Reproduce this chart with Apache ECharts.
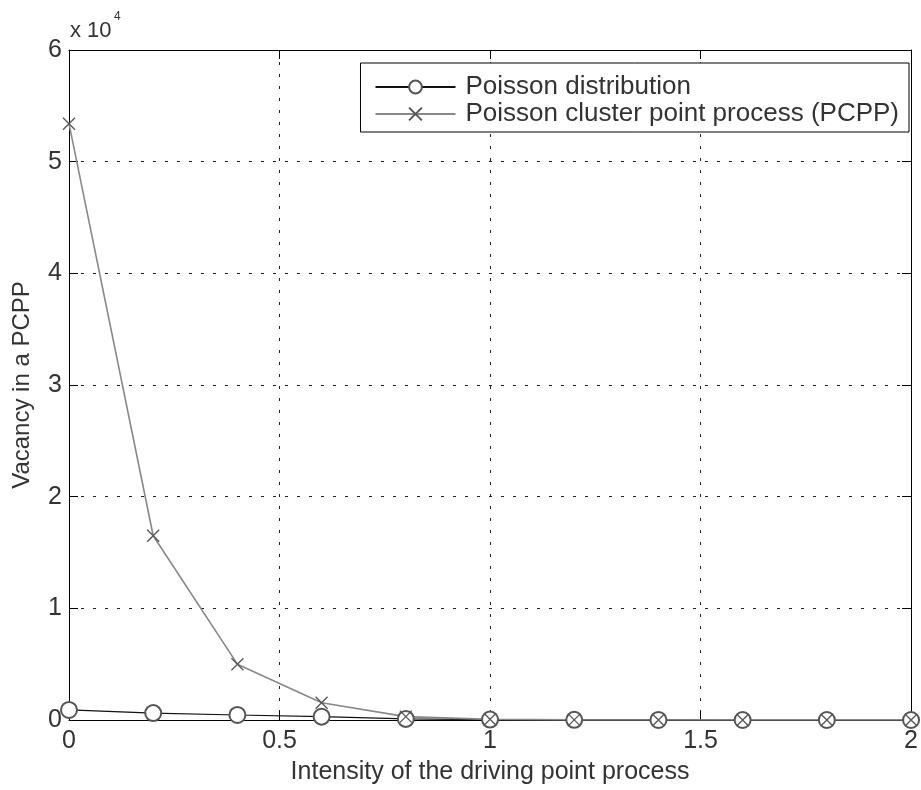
<!DOCTYPE html>
<html><head><meta charset="utf-8">
<script src="https://cdn.jsdelivr.net/npm/echarts@6/dist/echarts.min.js"></script>
<style>html,body{margin:0;padding:0;background:#fff}#c{width:921px;height:790px}</style>
</head><body><div id="c"></div>
<script>
const xValues = [0, 0.2, 0.4, 0.6, 0.8, 1.0, 1.2, 1.4, 1.6, 1.8, 2.0];
const poisson = [900, 620, 450, 300, 100, 40, 15, 5, 0, 0, 0];
const pcpp = [53400, 16500, 5000, 1550, 300, 60, 10, 0, 0, 0, 0];
const seriesNames = ['Poisson distribution', 'Poisson cluster point process (PCPP)'];
const xTitle = 'Intensity of the driving point process';
const yTitle = 'Vacancy in a PCPP';

const font = 'Liberation Sans, Arial, sans-serif';
const txt = '#333';
const chart = echarts.init(document.getElementById('c'));
const crossPath = 'path://M0,0L10,10M10,0L0,10';
const gridLine = {show: true, lineStyle: {color: '#222', type: [3, 9], width: 1}};
chart.setOption({
  animation: false,
  grid: {left: 69, right: 4, top: 50, bottom: 66},
  legend: {
    orient: 'vertical', right: 12, top: 63,
    backgroundColor: '#fff', borderColor: '#000', borderWidth: 1,
    padding: [11, 10, 5, 14], itemGap: 1, itemWidth: 80, itemHeight: 16,
    textStyle: {fontFamily: font, fontSize: 26, color: txt, lineHeight: 22, padding: [0, 0, 0, 5]},
    data: seriesNames
  },
  graphic: [
    {type: 'text', left: 70, top: 20, style: {text: 'x 10', font: '22px ' + font, fill: txt}},
    {type: 'text', left: 114, top: 11, style: {text: '4', font: '12px ' + font, fill: txt}}
  ],
  xAxis: [{
    type: 'value', min: 0, max: 2, interval: 0.5,
    name: xTitle, nameLocation: 'middle', nameGap: 40,
    nameTextStyle: {fontFamily: font, fontSize: 25, color: txt},
    axisLine: {show: true, onZero: false, lineStyle: {color: '#000'}},
    axisTick: {show: true, inside: true, length: 9, lineStyle: {color: '#000'}},
    axisLabel: {fontFamily: font, fontSize: 25, color: txt, margin: 9, formatter: v => String(v)},
    splitLine: gridLine
  }, {
    type: 'value', position: 'top', min: 0, max: 2, interval: 0.5,
    axisLine: {show: true, onZero: false, lineStyle: {color: '#000'}},
    axisTick: {show: true, inside: true, length: 9, lineStyle: {color: '#000'}},
    axisLabel: {show: false}, splitLine: {show: false}
  }],
  yAxis: [{
    type: 'value', min: 0, max: 60000, interval: 10000,
    name: yTitle, nameLocation: 'middle', nameGap: 35,
    nameTextStyle: {fontFamily: font, fontSize: 24, color: txt},
    axisLine: {show: true, onZero: false, lineStyle: {color: '#000'}},
    axisTick: {show: true, inside: true, length: 9, lineStyle: {color: '#000'}},
    axisLabel: {fontFamily: font, fontSize: 25, color: txt, margin: 7, formatter: v => String(v / 10000)},
    splitLine: gridLine
  }, {
    type: 'value', position: 'right', min: 0, max: 60000, interval: 10000,
    axisLine: {show: true, onZero: false, lineStyle: {color: '#000'}},
    axisTick: {show: true, inside: true, length: 9, lineStyle: {color: '#000'}},
    axisLabel: {show: false}, splitLine: {show: false}
  }],
  series: [{
    name: seriesNames[0], type: 'line',
    data: xValues.map((x, i) => [x, poisson[i]]),
    symbol: 'emptyCircle', symbolSize: 16, showAllSymbol: true,
    lineStyle: {color: '#111', width: 1.2},
    itemStyle: {color: '#555', borderColor: '#555', borderWidth: 1.2}
  }, {
    name: seriesNames[1], type: 'line',
    data: xValues.map((x, i) => [x, pcpp[i]]),
    symbol: crossPath, symbolSize: 12, showAllSymbol: true,
    lineStyle: {color: '#888', width: 1.6},
    itemStyle: {color: 'rgba(0,0,0,0)', borderColor: '#555', borderWidth: 1.3}
  }]
});
</script></body></html>
